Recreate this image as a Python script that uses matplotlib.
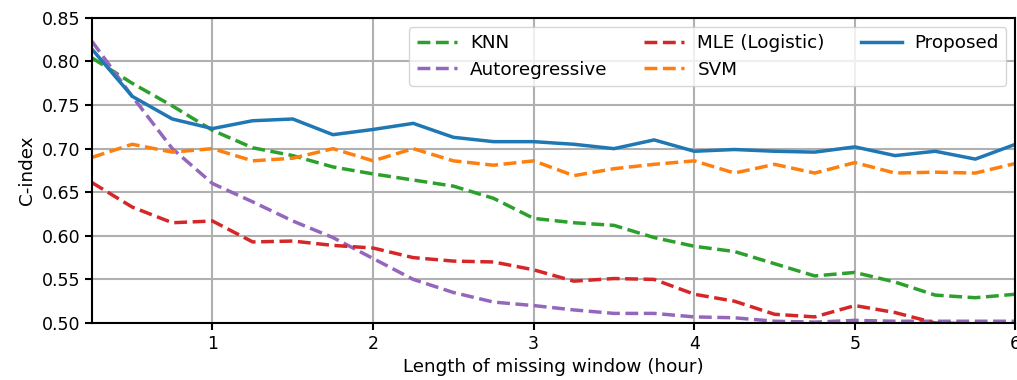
import numpy as np
import matplotlib
matplotlib.use("Agg")
import matplotlib.pyplot as plt

# missing window lengths (hours)
window = np.arange(1, 25) * 0.25

knn = [0.804, 0.775, 0.749, 0.721, 0.701, 0.692, 0.679, 0.671, 0.664, 0.657, 0.643, 0.620,
       0.615, 0.612, 0.598, 0.588, 0.582, 0.568, 0.554, 0.558, 0.547, 0.532, 0.529, 0.533]
autoreg = [0.823, 0.760, 0.700, 0.660, 0.639, 0.617, 0.598, 0.574, 0.550, 0.535, 0.524, 0.520,
           0.515, 0.511, 0.511, 0.507, 0.506, 0.502, 0.501, 0.503, 0.502, 0.502, 0.502, 0.502]
mle = [0.661, 0.633, 0.615, 0.617, 0.593, 0.594, 0.589, 0.586, 0.575, 0.571, 0.570, 0.561,
       0.548, 0.551, 0.550, 0.533, 0.525, 0.510, 0.507, 0.520, 0.512, 0.500, 0.499, 0.498]
svm = [0.690, 0.705, 0.696, 0.700, 0.686, 0.689, 0.700, 0.686, 0.700, 0.686, 0.681, 0.686,
       0.669, 0.677, 0.682, 0.686, 0.672, 0.682, 0.672, 0.684, 0.672, 0.673, 0.672, 0.683]
proposed = [0.814, 0.760, 0.734, 0.723, 0.732, 0.734, 0.716, 0.722, 0.729, 0.713, 0.708, 0.708,
            0.705, 0.700, 0.710, 0.697, 0.699, 0.697, 0.696, 0.702, 0.692, 0.697, 0.688, 0.705]

plt.rcParams['font.size'] = 13.2
plt.rcParams['xtick.labelsize'] = 12.5
plt.rcParams['ytick.labelsize'] = 12.5

fig = plt.figure(figsize=(10.17, 3.8), dpi=100)
ax = fig.add_axes([0.0905, 0.15, 0.908, 0.803])

lw = 2.5
ax.plot(window, knn, '--', color='tab:green', lw=lw, label='KNN')
ax.plot(window, autoreg, '--', color='tab:purple', lw=lw, label='Autoregressive')
ax.plot(window, mle, '--', color='tab:red', lw=lw, label='MLE (Logistic)')
ax.plot(window, svm, '--', color='tab:orange', lw=lw, label='SVM')
ax.plot(window, proposed, '-', color='tab:blue', lw=lw, label='Proposed')

ax.set_xlim(0.25, 6)
ax.set_ylim(0.5, 0.85)
ax.set_xticks([1, 2, 3, 4, 5, 6])
ax.set_yticks(np.arange(0.50, 0.851, 0.05))
ax.yaxis.set_major_formatter(matplotlib.ticker.FormatStrFormatter('%.2f'))
ax.grid(True, color='#b0b0b0', lw=1.5)
ax.set_axisbelow(True)
for s in ax.spines.values():
    s.set_linewidth(1.5)
ax.tick_params(width=1.5, length=5)

ax.set_xlabel('Length of missing window (hour)')
ax.set_ylabel('C-index')
ax.legend(ncol=3, loc='upper right', columnspacing=2.0, handlelength=2.2,
          handletextpad=0.7, borderaxespad=0.5, labelspacing=0.45)

fig.savefig('out.png', dpi=100)
